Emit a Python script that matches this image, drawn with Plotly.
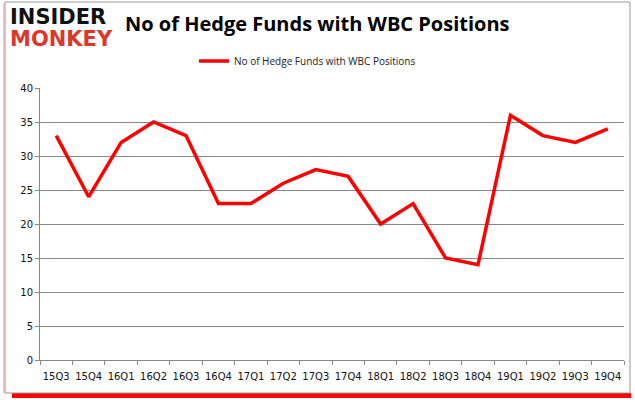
import plotly.graph_objects as go

quarters = ["15Q3","15Q4","16Q1","16Q2","16Q3","16Q4","17Q1","17Q2","17Q3","17Q4",
            "18Q1","18Q2","18Q3","18Q4","19Q1","19Q2","19Q3","19Q4"]
funds = [33, 24, 32, 35, 33, 23, 23, 26, 28, 27, 20, 23, 15, 14, 36, 33, 32, 34]
y_ticks = [0, 5, 10, 15, 20, 25, 30, 35, 40]

W, H = 635, 405
L, R, T, B = 40, 11, 88, 45
pw, ph = W - L - R, H - T - B

def px(x):
    return (x - L) / pw

def py(y):
    return (H - B - y) / ph

fig = go.Figure()
fig.add_trace(go.Scatter(
    x=quarters, y=funds, mode="lines",
    name="No of Hedge Funds with WBC Positions",
    line=dict(color="#ff0000", width=3.5),
))

fig.update_layout(
    width=W, height=H,
    margin=dict(l=L, r=R, t=T, b=B, autoexpand=False),
    paper_bgcolor="white", plot_bgcolor="white",
    showlegend=True,
    legend=dict(orientation="h", x=px(194), y=py(61), xanchor="left", yanchor="middle",
                font=dict(family="Open Sans, DejaVu Sans", size=10, color="#222"),
                bgcolor="rgba(0,0,0,0)"),
    xaxis=dict(type="category", range=[-0.5, len(quarters) - 0.5], tickson="boundaries",
               ticks="outside", ticklen=4, tickangle=0, ticklabelstandoff=7,
               tickcolor="#888", showline=True, linecolor="#888", linewidth=1,
               showgrid=False, tickfont=dict(family="DejaVu Sans", size=10, color="#111")),
    yaxis=dict(range=[0, 40], tickvals=y_ticks, ticks="outside", ticklen=4, tickcolor="#888",
               showline=True, linecolor="#888", linewidth=1,
               showgrid=True, gridcolor="#888", gridwidth=1, zeroline=False,
               tickfont=dict(family="DejaVu Sans", size=10, color="#111")),
)

# frame and shadow
fig.add_shape(type="rect", xref="paper", yref="paper",
              x0=px(12), x1=px(631), y0=py(398), y1=py(393),
              fillcolor="#ff0000", line=dict(width=0), layer="below")
fig.add_shape(type="rect", xref="paper", yref="paper",
              x0=px(5), x1=px(630), y0=py(393), y1=py(2),
              fillcolor="white", line=dict(color="#999", width=1), layer="below")
fig.add_shape(type="line", xref="paper", yref="paper",
              x0=px(4), x1=px(4), y0=py(393), y1=py(3),
              line=dict(color="#f4b0b0", width=1.5))

# logo
fig.add_annotation(text="<b>INSIDER</b>", xref="paper", yref="paper", x=px(8), y=py(17),
                   xanchor="left", yanchor="middle", showarrow=False,
                   font=dict(family="DejaVu Sans", size=21, color="#111"))
fig.add_annotation(text="<b>MONKEY</b>", xref="paper", yref="paper", x=px(8), y=py(39),
                   xanchor="left", yanchor="middle", showarrow=False,
                   font=dict(family="DejaVu Sans", size=21, color="#d9382a"))
# title
fig.add_annotation(text="<b>No of Hedge Funds with WBC Positions</b>", xref="paper", yref="paper",
                   x=px(123), y=py(24), xanchor="left", yanchor="middle", showarrow=False,
                   font=dict(family="Open Sans", size=20, color="#000"))

fig.write_html("out.html", config={"displayModeBar": False},
               post_script="document.body.style.margin='0';")
